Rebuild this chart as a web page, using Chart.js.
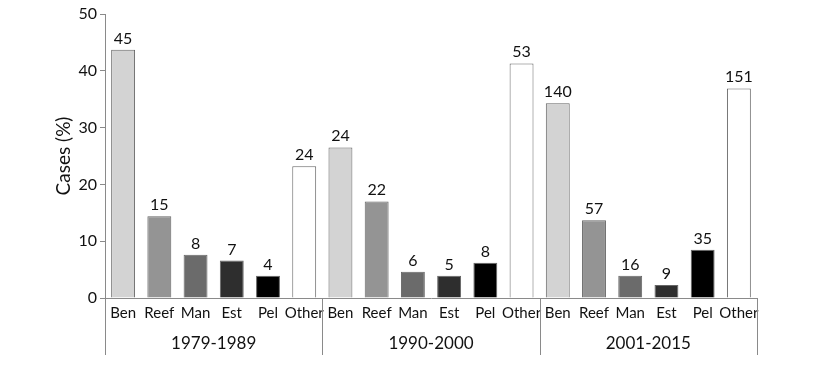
<!DOCTYPE html>
<html>
<head>
<meta charset="utf-8">
<script src="https://cdn.jsdelivr.net/npm/chart.js@4/dist/chart.umd.min.js"></script>
<style>
  html, body { margin: 0; padding: 0; background: #fff; }
  #wrap { width: 825px; height: 366px; }
</style>
</head>
<body>
<div id="wrap"><canvas id="myChart" width="825" height="366"></canvas></div>
<script>
(() => {
  'use strict'

  // Data
  const periods = ['1979-1989', '1990-2000', '2001-2015']
  const habitats = ['Ben', 'Reef', 'Man', 'Est', 'Pel', 'Other']
  const pct1979 = [43.7, 14.4, 7.6, 6.6, 3.9, 23.2]
  const pct1990 = [26.5, 17.0, 4.6, 3.9, 6.2, 41.3]
  const pct2001 = [34.3, 13.7, 3.9, 2.3, 8.5, 36.9]
  const cases1979 = [45, 15, 8, 7, 4, 24]
  const cases1990 = [24, 22, 6, 5, 8, 53]
  const cases2001 = [140, 57, 16, 9, 35, 151]
  const habitatColors = ['#d3d3d3', '#949494', '#6b6b6b', '#2e2e2e', '#000000', '#ffffff']

  const labels = [...habitats, ...habitats, ...habitats]
  const values = [...pct1979, ...pct1990, ...pct2001]
  const counts = [...cases1979, ...cases1990, ...cases2001]
  const colors = [...habitatColors, ...habitatColors, ...habitatColors]

  const FONT = 'Lato, "Open Sans", sans-serif'
  const lineCol = '#8a8a8a'

  // counts above bars + group separators below the axis
  const extras = {
    id: 'extras',
    afterDatasetsDraw(chart) {
      const { ctx } = chart
      const meta = chart.getDatasetMeta(0)
      ctx.save()
      ctx.fillStyle = '#111'
      ctx.font = '16px ' + FONT
      ctx.textAlign = 'center'
      ctx.textBaseline = 'alphabetic'
      meta.data.forEach((bar, i) => {
        ctx.fillText(String(counts[i]), bar.x, bar.y - 6)
      })
      ctx.restore()
    },
    afterDraw(chart) {
      const { ctx, chartArea } = chart
      const x = chart.scales.x
      const per = habitats.length
      const xs = [chartArea.left]
      for (let g = 1; g < periods.length; g++) {
        xs.push((x.getPixelForValue(g * per - 1) + x.getPixelForValue(g * per)) / 2)
      }
      xs.push(chartArea.right)
      ctx.save()
      ctx.strokeStyle = lineCol
      ctx.lineWidth = 1
      xs.forEach(px => {
        const p = Math.round(px) + 0.5
        ctx.beginPath()
        ctx.moveTo(p, chartArea.bottom)
        ctx.lineTo(p, 355)
        ctx.stroke()
      })
      ctx.restore()
    }
  }

  const ctx = document.getElementById('myChart')

  new Chart(ctx, {
    type: 'bar',
    data: {
      labels: labels,
      datasets: [{
        data: values,
        backgroundColor: colors,
        borderColor: '#666',
        borderWidth: 1,
        barPercentage: 0.66,
        categoryPercentage: 1
      }]
    },
    options: {
      responsive: false,
      animation: false,
      layout: { padding: { left: 0, right: 68, top: 14, bottom: 0 } },
      plugins: {
        legend: { display: false },
        tooltip: { enabled: false }
      },
      scales: {
        y: {
          min: 0,
          max: 50,
          ticks: { stepSize: 10, color: '#111', font: { family: FONT, size: 16 }, padding: 3 },
          grid: { drawOnChartArea: false, tickLength: 5, color: lineCol },
          border: { color: lineCol },
          title: {
            display: true,
            text: 'Cases (%)',
            color: '#111',
            font: { family: FONT, size: 19 },
            padding: { top: 52, bottom: 0 }
          },
          afterFit(scale) { scale.width = 105 }
        },
        x: {
          ticks: { color: '#111', font: { family: FONT, size: 15 }, padding: -2, maxRotation: 0, autoSkip: false },
          grid: { display: false },
          border: { color: lineCol },
          afterFit(scale) { scale.height = 30 }
        },
        x2: {
          type: 'category',
          position: 'bottom',
          labels: periods,
          ticks: { color: '#111', font: { family: FONT, size: 17 }, padding: -3 },
          grid: { display: false },
          border: { display: false },
          afterFit(scale) { scale.height = 38 }
        }
      }
    },
    plugins: [extras]
  })
})()
</script>
</body>
</html>
